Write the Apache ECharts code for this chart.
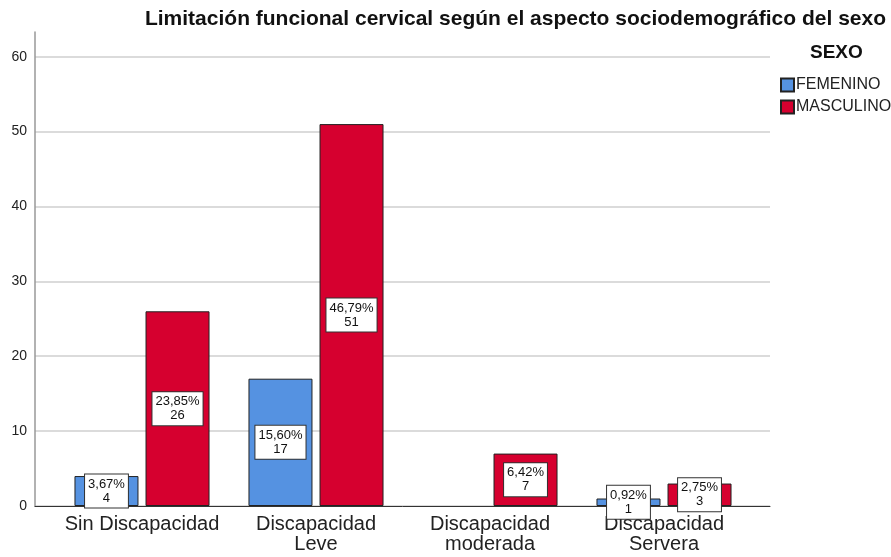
<!DOCTYPE html>
<html>
<head>
<meta charset="utf-8">
<script src="https://cdn.jsdelivr.net/npm/echarts@6/dist/echarts.min.js"></script>
<style>
  html, body { margin: 0; padding: 0; background: #fff; }
  #chart { width: 891px; height: 557px; }
</style>
</head>
<body>
<div id="chart"></div>
<script>
// categorias y valores
const categorias = ["Sin Discapacidad", "Discapacidad\nLeve", "Discapacidad\nmoderada", "Discapacidad\nServera"];
const femenino = [4, 17, 0, 1];
const masculino = [26, 51, 7, 3];
const pctFemenino = ["3,67%", "15,60%", "", "0,92%"];
const pctMasculino = ["23,85%", "46,79%", "6,42%", "2,75%"];
const yTicks = [0, 10, 20, 30, 40, 50, 60];

const font = "Liberation Sans, Arial, sans-serif";
const yMax = 63.3;

const myChart = echarts.init(document.getElementById("chart"));

function etiqueta(pcts) {
  return {
    show: true,
    position: "inside",
    formatter: function (p) {
      return pcts[p.dataIndex] + "\n" + p.value;
    },
    color: "#111",
    fontFamily: font,
    fontSize: 13,
    lineHeight: 14,
    backgroundColor: "#fff",
    borderColor: "#333",
    borderWidth: 1,
    padding: [3, 3, 2, 3],
  };
}

function serie(nombre, valores, pcts, color) {
  return {
    name: nombre,
    type: "bar",
    xAxisIndex: 1,
    yAxisIndex: 1,
    barWidth: 64,
    barGap: "11%",
    itemStyle: { color: color, borderColor: "#222", borderWidth: 1 },
    label: etiqueta(pcts),
    data: valores.map(function (v) {
      // sin barra ni etiqueta cuando el valor es cero
      return v === 0 ? { value: v, label: { show: false }, itemStyle: { borderWidth: 0 } } : v;
    }),
  };
}

const option = {
  animation: false,
  backgroundColor: "#fff",
  title: [
    {
      text: "Limitación funcional cervical según el aspecto sociodemográfico del sexo",
      right: 0,
      top: 4,
      textStyle: { fontFamily: font, fontSize: 21, fontWeight: "bold", color: "#111" },
    },
    {
      text: "SEXO",
      left: 805,
      top: 38,
      textStyle: { fontFamily: font, fontSize: 19, fontWeight: "bold", color: "#111" },
    },
  ],
  legend: {
    orient: "vertical",
    left: 775,
    top: 72,
    icon: "rect",
    itemWidth: 13,
    itemHeight: 13,
    itemGap: 6,
    textStyle: { fontFamily: font, fontSize: 16, color: "#222", padding: [0, 0, 0, -3] },
    data: ["FEMENINO", "MASCULINO"],
  },
  grid: [
    { left: 35, right: 121, top: 32, bottom: 51 },
    { left: 55, right: 140, top: 32, bottom: 51 },
  ],
  xAxis: [
    {
      gridIndex: 0,
      type: "value",
      min: 0,
      max: 1,
      axisLine: { show: true, lineStyle: { color: "#333", width: 1 } },
      axisTick: { show: false },
      axisLabel: { show: false },
      splitLine: { show: false },
    },
    {
      gridIndex: 1,
      type: "category",
      data: categorias,
      axisLine: { show: false },
      axisTick: { show: false },
      axisLabel: { fontFamily: font, fontSize: 20, lineHeight: 20, color: "#222", margin: 8, interval: 0 },
    },
  ],
  yAxis: [
    {
      gridIndex: 0,
      type: "value",
      min: 0,
      max: yMax,
      interval: 10,
      axisLine: { show: true, lineStyle: { color: "#999", width: 1.5 } },
      axisTick: { show: false },
      axisLabel: {
        showMaxLabel: false,
        fontFamily: font,
        fontSize: 14,
        color: "#222",
        margin: 8,
        formatter: function (v) {
          return yTicks.indexOf(v) >= 0 ? String(v) : "";
        },
      },
      splitLine: { show: true, showMaxLine: false, lineStyle: { color: "#cfcfcf", width: 1.5 } },
    },
    { gridIndex: 1, type: "value", min: 0, max: yMax, show: false },
  ],
  series: [
    serie("FEMENINO", femenino, pctFemenino, "#5592e1"),
    serie("MASCULINO", masculino, pctMasculino, "#d6002f"),
  ],
};

option && myChart.setOption(option);
</script>
</body>
</html>
